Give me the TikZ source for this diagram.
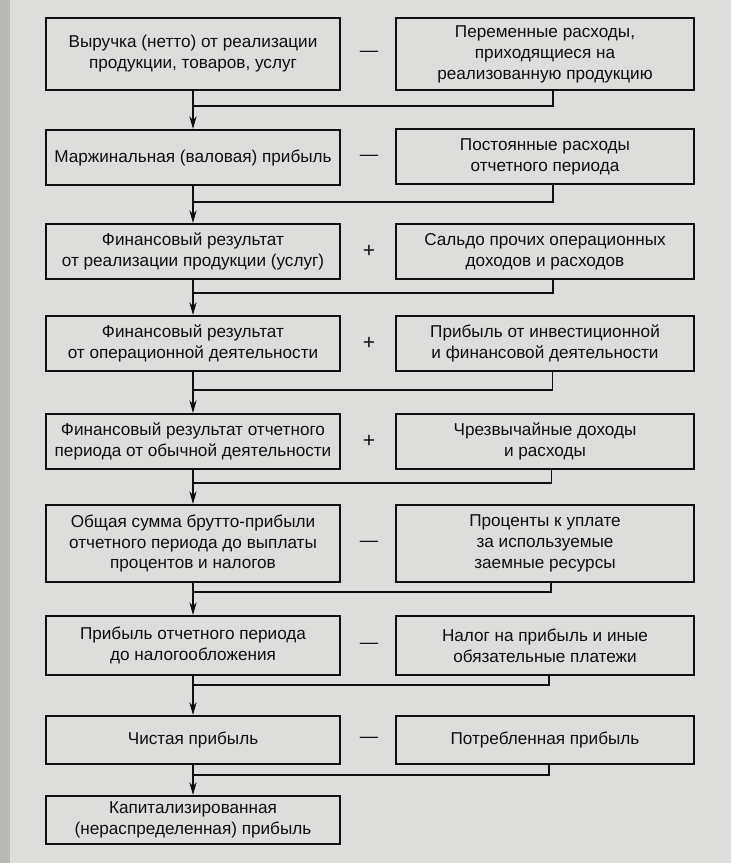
\documentclass[tikz,border=0pt]{standalone}
\usepackage{fontspec}
\setmainfont{Liberation Sans}
\usepackage{xcolor}
\usepackage{tikz}
\usetikzlibrary{arrows.meta,positioning,calc}

\definecolor{paper}{RGB}{221,221,219}
\definecolor{edge}{RGB}{185,186,184}
\definecolor{ink}{RGB}{15,15,15}

\begin{document}
\begin{tikzpicture}[
    font=\fontsize{12.2}{14.9}\selectfont,
    lbox/.style={rectangle, minimum width=7.35cm, align=center, draw=ink, line width=1.4pt, fill=paper, text=ink, inner sep=2pt},
    rbox/.style={rectangle, minimum width=7.45cm, align=center, draw=ink, line width=1.4pt, fill=paper, text=ink, inner sep=2pt},
    op/.style={font=\fontsize{15}{15}\selectfont, text=ink},
    minus/.style={font=\fontsize{13}{13}\selectfont, text=ink},
    link/.style={draw=ink, line width=0.8pt},
    arrow/.style={-{Stealth[length=3.2mm, width=1.8mm]}, draw=ink, line width=0.8pt},
]
% page
\fill[paper] (0,0) rectangle (18.275,-21.575);
\fill[edge] (0,0) rectangle (0.25,-21.575);
\useasboundingbox (0,0) rectangle (18.275,-21.575);

% left column
\node[lbox, minimum height=1.8cm]   (l1) at (4.825,-1.35)    {Выручка (нетто) от реализации\\продукции, товаров, услуг};
\node[lbox, minimum height=1.375cm] (l2) at (4.825,-3.9375)  {Маржинальная (валовая) прибыль};
\node[lbox, minimum height=1.375cm] (l3) at (4.825,-6.2875)  {Финансовый результат\\от реализации продукции (услуг)};
\node[lbox, minimum height=1.375cm] (l4) at (4.825,-8.5875)  {Финансовый результат\\от операционной деятельности};
\node[lbox, minimum height=1.375cm] (l5) at (4.825,-11.0375) {Финансовый результат отчетного\\периода от обычной деятельности};
\node[lbox, minimum height=1.925cm] (l6) at (4.825,-13.5875) {Общая сумма брутто-прибыли\\отчетного периода до выплаты\\процентов и налогов};
\node[lbox, minimum height=1.475cm] (l7) at (4.825,-16.1375) {Прибыль отчетного периода\\до налогообложения};
\node[lbox, minimum height=1.2cm]   (l8) at (4.825,-18.5)    {Чистая прибыль};
\node[lbox, minimum height=1.2cm]   (l9) at (4.825,-20.5)    {Капитализированная\\(нераспределенная) прибыль};

% right column
\node[rbox, minimum height=1.8cm]   (r1) at (13.625,-1.35)    {Переменные расходы,\\приходящиеся на\\реализованную продукцию};
\node[rbox, minimum height=1.375cm] (r2) at (13.625,-3.9125)  {Постоянные расходы\\отчетного периода};
\node[rbox, minimum height=1.375cm] (r3) at (13.625,-6.2875)  {Сальдо прочих операционных\\доходов и расходов};
\node[rbox, minimum height=1.375cm] (r4) at (13.625,-8.5875)  {Прибыль от инвестиционной\\и финансовой деятельности};
\node[rbox, minimum height=1.375cm] (r5) at (13.625,-11.0375) {Чрезвычайные доходы\\и расходы};
\node[rbox, minimum height=1.925cm] (r6) at (13.625,-13.5875) {Проценты к уплате\\за используемые\\заемные ресурсы};
\node[rbox, minimum height=1.475cm] (r7) at (13.625,-16.1375) {Налог на прибыль и иные\\обязательные платежи};
\node[rbox, minimum height=1.2cm]   (r8) at (13.625,-18.5)    {Потребленная прибыль};

% signs
\node[minus] (o1) at (9.225,-1.35)    {---};
\node[minus] (o2) at (9.225,-3.9375)  {---};
\node[op]    (o3) at (9.225,-6.2875)  {+};
\node[op]    (o4) at (9.225,-8.5875)  {+};
\node[op]    (o5) at (9.225,-11.0375) {+};
\node[minus] (o6) at (9.225,-13.5875) {---};
\node[minus] (o7) at (9.225,-16.1375) {---};
\node[minus] (o8) at (9.225,-18.5)    {---};

% joints
\coordinate (j1) at (4.825,-2.65);
\coordinate (j2) at (4.825,-5.05);
\coordinate (j3) at (4.825,-7.325);
\coordinate (j4) at (4.825,-9.75);
\coordinate (j5) at (4.825,-12.075);
\coordinate (j6) at (4.825,-14.8);
\coordinate (j7) at (4.825,-17.125);
\coordinate (j8) at (4.825,-19.375);

\draw[link] ($(r1.south)+(0.2,0)$) |- (j1);
\draw[link] ($(r2.south)+(0.2,0)$) |- (j2);
\draw[link] ($(r3.south)+(0.2,0)$) |- (j3);
\draw[link] ($(r4.south)+(0.18,0)$) |- (j4);
\draw[link] ($(r5.south)+(0.17,0)$) |- (j5);
\draw[link] ($(r6.south)+(0.15,0)$) |- (j6);
\draw[link] ($(r7.south)+(0.1,0)$) |- (j7);
\draw[link] ($(r8.south)+(0.1,0)$) |- (j8);

\draw[arrow] (l1) -- (l2);
\draw[arrow] (l2) -- (l3);
\draw[arrow] (l3) -- (l4);
\draw[arrow] (l4) -- (l5);
\draw[arrow] (l5) -- (l6);
\draw[arrow] (l6) -- (l7);
\draw[arrow] (l7) -- (l8);
\draw[arrow] (l8) -- (l9);
\end{tikzpicture}
\end{document}
